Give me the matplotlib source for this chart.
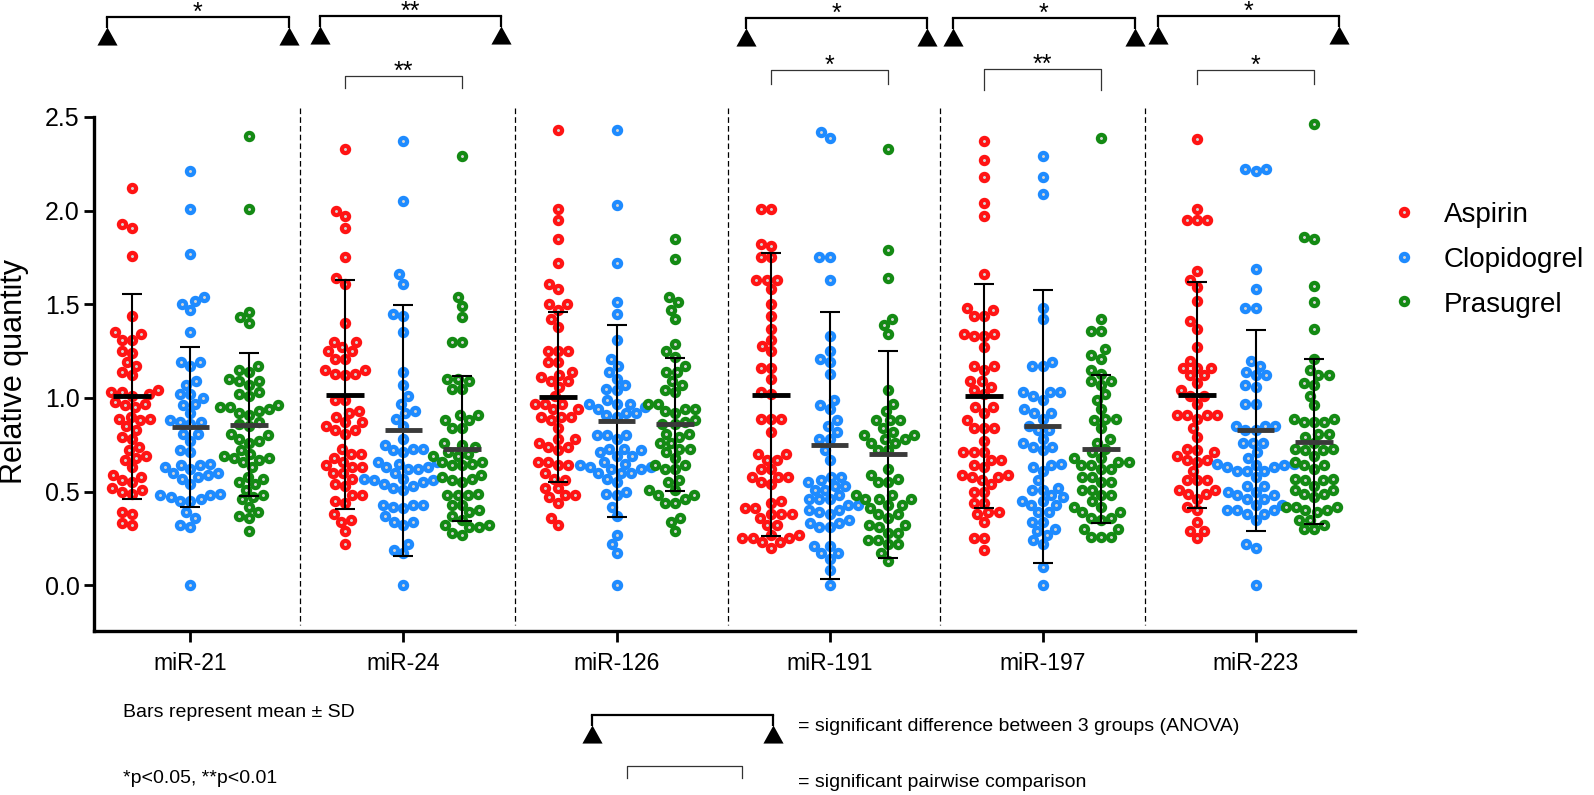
"""Relative miRNA quantity per antiplatelet drug, beeswarm with mean +/- SD."""

import matplotlib
matplotlib.use("Agg")
import matplotlib.pyplot as plt
import matplotlib.transforms as mtransforms
from matplotlib.lines import Line2D
import numpy as np

plt.rcParams["font.family"] = ["Liberation Sans", "DejaVu Sans"]

W, H, DPI = 1594, 795, 100

mirnas = ["miR-21", "miR-24", "miR-126", "miR-191", "miR-197", "miR-223"]
drugs = ["Aspirin", "Clopidogrel", "Prasugrel"]
colors = ["#ff1414", "#1e8bff", "#148a14"]
mean_colors = ["#000000", "#3a3a3a", "#3a3a3a"]

# individual values
mir21_aspirin = [2.12, 1.93, 1.91, 1.76, 1.44, 1.35, 1.34, 1.31, 1.31, 1.25, 1.24, 1.19, 1.17,
                 1.14, 1.12, 1.04, 1.03, 1.03, 1.02, 1.01, 0.98, 0.97, 0.96, 0.95, 0.90, 0.89,
                 0.89, 0.88, 0.85, 0.83, 0.79, 0.78, 0.74, 0.72, 0.69, 0.68, 0.67, 0.63, 0.59,
                 0.58, 0.56, 0.55, 0.52, 0.51, 0.50, 0.49, 0.39, 0.38, 0.33, 0.32]
mir21_clopidogrel = [2.21, 2.01, 1.77, 1.54, 1.52, 1.50, 1.47, 1.35, 1.19, 1.19, 1.17, 1.09, 1.07,
                     1.02, 1.02, 1.00, 0.97, 0.96, 0.92, 0.88, 0.87, 0.87, 0.86, 0.81, 0.81, 0.77,
                     0.72, 0.71, 0.65, 0.64, 0.64, 0.63, 0.62, 0.60, 0.60, 0.59, 0.58, 0.57, 0.54,
                     0.49, 0.48, 0.48, 0.47, 0.46, 0.45, 0.45, 0.39, 0.36, 0.32, 0.31, 0.00]
mir21_prasugrel = [2.40, 2.01, 1.46, 1.43, 1.40, 1.17, 1.15, 1.14, 1.10, 1.09, 1.09, 1.07, 1.03,
                   1.02, 1.01, 0.96, 0.95, 0.95, 0.94, 0.93, 0.92, 0.91, 0.87, 0.86, 0.85, 0.81,
                   0.80, 0.78, 0.77, 0.76, 0.72, 0.70, 0.69, 0.68, 0.68, 0.67, 0.66, 0.63, 0.58,
                   0.57, 0.55, 0.54, 0.51, 0.48, 0.47, 0.46, 0.42, 0.39, 0.37, 0.36, 0.29]

mir24_aspirin = [2.33, 2.00, 1.97, 1.91, 1.75, 1.64, 1.61, 1.40, 1.30, 1.30, 1.27, 1.25, 1.25,
                 1.21, 1.21, 1.15, 1.15, 1.13, 1.13, 1.12, 0.99, 0.99, 0.93, 0.92, 0.90, 0.87,
                 0.87, 0.85, 0.83, 0.83, 0.81, 0.73, 0.70, 0.70, 0.68, 0.66, 0.64, 0.63, 0.63,
                 0.60, 0.60, 0.57, 0.54, 0.53, 0.48, 0.48, 0.45, 0.44, 0.38, 0.35, 0.34, 0.29, 0.22]
mir24_clopidogrel = [2.37, 2.05, 1.66, 1.61, 1.45, 1.44, 1.35, 1.14, 1.07, 1.01, 0.97, 0.93, 0.92,
                     0.89, 0.85, 0.78, 0.75, 0.73, 0.73, 0.72, 0.71, 0.66, 0.66, 0.65, 0.63, 0.63,
                     0.62, 0.62, 0.60, 0.57, 0.57, 0.56, 0.56, 0.55, 0.54, 0.53, 0.52, 0.51, 0.43,
                     0.43, 0.43, 0.42, 0.41, 0.37, 0.34, 0.34, 0.32, 0.22, 0.19, 0.17, 0.00]
mir24_prasugrel = [2.29, 1.54, 1.49, 1.43, 1.30, 1.30, 1.10, 1.10, 1.09, 1.05, 1.05, 0.91, 0.91,
                   0.88, 0.88, 0.84, 0.84, 0.76, 0.75, 0.74, 0.71, 0.70, 0.69, 0.69, 0.66, 0.66,
                   0.65, 0.64, 0.64, 0.59, 0.58, 0.57, 0.56, 0.55, 0.49, 0.48, 0.48, 0.48, 0.43,
                   0.43, 0.40, 0.39, 0.37, 0.35, 0.32, 0.32, 0.31, 0.31, 0.28, 0.27]

mir126_aspirin = [2.43, 2.01, 1.95, 1.85, 1.72, 1.61, 1.58, 1.50, 1.50, 1.47, 1.42, 1.38, 1.25,
                  1.25, 1.25, 1.19, 1.19, 1.14, 1.12, 1.11, 1.09, 1.09, 1.06, 1.01, 0.97, 0.97,
                  0.97, 0.94, 0.94, 0.90, 0.90, 0.90, 0.88, 0.84, 0.78, 0.78, 0.76, 0.74, 0.74,
                  0.72, 0.66, 0.66, 0.64, 0.64, 0.60, 0.57, 0.56, 0.52, 0.52, 0.48, 0.48, 0.47,
                  0.44, 0.36, 0.32]
mir126_clopidogrel = [2.43, 2.03, 1.72, 1.51, 1.45, 1.31, 1.21, 1.17, 1.14, 1.10, 1.07, 1.05, 1.04,
                      0.99, 0.97, 0.97, 0.97, 0.95, 0.94, 0.92, 0.92, 0.91, 0.90, 0.80, 0.80, 0.80,
                      0.78, 0.73, 0.73, 0.72, 0.71, 0.69, 0.69, 0.66, 0.65, 0.64, 0.63, 0.63, 0.62,
                      0.62, 0.60, 0.60, 0.60, 0.57, 0.55, 0.50, 0.49, 0.48, 0.42, 0.37, 0.27, 0.22,
                      0.17, 0.00]
mir126_prasugrel = [1.85, 1.74, 1.54, 1.51, 1.47, 1.42, 1.29, 1.25, 1.22, 1.17, 1.14, 1.14, 1.09,
                    1.07, 1.04, 1.03, 0.97, 0.97, 0.94, 0.94, 0.93, 0.92, 0.88, 0.87, 0.86, 0.86,
                    0.81, 0.81, 0.79, 0.76, 0.76, 0.73, 0.73, 0.71, 0.68, 0.64, 0.64, 0.62, 0.62,
                    0.56, 0.55, 0.51, 0.51, 0.48, 0.48, 0.46, 0.44, 0.44, 0.36, 0.34, 0.29]

mir191_aspirin = [2.01, 2.01, 1.82, 1.81, 1.75, 1.75, 1.63, 1.63, 1.63, 1.58, 1.50, 1.44, 1.37,
                  1.31, 1.28, 1.25, 1.16, 1.16, 1.10, 1.03, 1.02, 0.89, 0.89, 0.89, 0.82, 0.70,
                  0.70, 0.67, 0.67, 0.62, 0.62, 0.58, 0.58, 0.58, 0.55, 0.54, 0.45, 0.44, 0.41,
                  0.41, 0.38, 0.38, 0.38, 0.36, 0.32, 0.32, 0.27, 0.27, 0.25, 0.25, 0.25, 0.23,
                  0.23, 0.20]
mir191_clopidogrel = [2.42, 2.39, 1.75, 1.75, 1.63, 1.33, 1.25, 1.21, 1.19, 1.13, 0.99, 0.96, 0.94,
                      0.88, 0.85, 0.82, 0.78, 0.78, 0.72, 0.67, 0.58, 0.58, 0.56, 0.55, 0.53, 0.53,
                      0.51, 0.51, 0.48, 0.46, 0.46, 0.46, 0.43, 0.43, 0.40, 0.40, 0.39, 0.38, 0.35,
                      0.33, 0.33, 0.31, 0.31, 0.21, 0.21, 0.17, 0.17, 0.14, 0.08, 0.00]
mir191_prasugrel = [2.33, 1.79, 1.64, 1.42, 1.39, 1.34, 1.04, 0.97, 0.93, 0.88, 0.88, 0.88, 0.84,
                    0.82, 0.80, 0.80, 0.78, 0.78, 0.76, 0.76, 0.72, 0.72, 0.62, 0.59, 0.57, 0.55,
                    0.55, 0.48, 0.48, 0.46, 0.46, 0.46, 0.43, 0.43, 0.41, 0.38, 0.38, 0.36, 0.32,
                    0.32, 0.31, 0.28, 0.28, 0.24, 0.24, 0.22, 0.22, 0.17, 0.13]

mir197_aspirin = [2.37, 2.27, 2.18, 2.04, 1.97, 1.66, 1.48, 1.47, 1.44, 1.44, 1.34, 1.34, 1.33,
                  1.33, 1.27, 1.17, 1.17, 1.15, 1.09, 1.09, 1.06, 1.04, 1.02, 0.95, 0.95, 0.92,
                  0.88, 0.84, 0.84, 0.84, 0.77, 0.71, 0.71, 0.71, 0.67, 0.67, 0.64, 0.63, 0.59,
                  0.59, 0.58, 0.58, 0.56, 0.54, 0.50, 0.50, 0.44, 0.44, 0.39, 0.39, 0.38, 0.34,
                  0.25, 0.25, 0.19]
mir197_clopidogrel = [2.29, 2.18, 2.09, 1.48, 1.42, 1.19, 1.17, 1.17, 1.03, 1.03, 1.03, 1.01, 0.99,
                      0.94, 0.92, 0.92, 0.89, 0.85, 0.83, 0.83, 0.78, 0.76, 0.74, 0.74, 0.72, 0.65,
                      0.64, 0.63, 0.61, 0.56, 0.52, 0.51, 0.51, 0.48, 0.47, 0.45, 0.45, 0.43, 0.43,
                      0.39, 0.39, 0.34, 0.34, 0.30, 0.29, 0.27, 0.24, 0.22, 0.10, 0.00]
mir197_prasugrel = [2.39, 1.42, 1.36, 1.36, 1.26, 1.23, 1.21, 1.15, 1.13, 1.09, 1.09, 1.07, 1.02,
                    0.99, 0.94, 0.89, 0.89, 0.88, 0.84, 0.78, 0.76, 0.73, 0.71, 0.68, 0.68, 0.66,
                    0.66, 0.64, 0.64, 0.62, 0.62, 0.58, 0.58, 0.55, 0.55, 0.51, 0.51, 0.48, 0.48,
                    0.45, 0.42, 0.42, 0.39, 0.39, 0.36, 0.36, 0.35, 0.30, 0.30, 0.26, 0.26, 0.26]

mir223_aspirin = [2.38, 2.01, 1.95, 1.95, 1.95, 1.68, 1.63, 1.59, 1.52, 1.41, 1.37, 1.27, 1.20,
                  1.16, 1.16, 1.16, 1.12, 1.12, 1.08, 1.04, 1.01, 1.01, 0.97, 0.91, 0.91, 0.91,
                  0.91, 0.89, 0.84, 0.79, 0.73, 0.72, 0.71, 0.69, 0.67, 0.67, 0.66, 0.61, 0.56,
                  0.56, 0.56, 0.51, 0.51, 0.49, 0.49, 0.46, 0.42, 0.40, 0.34, 0.29, 0.29, 0.25]
mir223_clopidogrel = [2.22, 2.22, 2.21, 1.69, 1.58, 1.48, 1.48, 1.20, 1.17, 1.14, 1.12, 1.12, 1.07,
                      1.06, 0.97, 0.97, 0.85, 0.85, 0.85, 0.83, 0.83, 0.76, 0.76, 0.76, 0.71, 0.68,
                      0.65, 0.65, 0.64, 0.64, 0.63, 0.63, 0.61, 0.61, 0.61, 0.58, 0.53, 0.53, 0.50,
                      0.50, 0.48, 0.48, 0.46, 0.46, 0.43, 0.43, 0.40, 0.40, 0.40, 0.38, 0.38, 0.35,
                      0.22, 0.20, 0.00]
mir223_prasugrel = [2.46, 1.86, 1.85, 1.60, 1.51, 1.37, 1.21, 1.15, 1.12, 1.12, 1.08, 1.07, 1.01,
                    0.96, 0.89, 0.89, 0.87, 0.87, 0.87, 0.81, 0.81, 0.79, 0.76, 0.73, 0.73, 0.72,
                    0.72, 0.69, 0.66, 0.64, 0.64, 0.62, 0.57, 0.57, 0.56, 0.56, 0.53, 0.51, 0.51,
                    0.49, 0.49, 0.47, 0.42, 0.42, 0.42, 0.40, 0.40, 0.39, 0.35, 0.35, 0.32, 0.30, 0.30]

# group mean and SD as drawn
mean_aspirin = [1.009, 1.018, 1.005, 1.018, 1.009, 1.016]
sd_aspirin = [0.548, 0.613, 0.456, 0.755, 0.597, 0.602]
mean_clopidogrel = [0.845, 0.827, 0.877, 0.747, 0.849, 0.827]
sd_clopidogrel = [0.428, 0.668, 0.512, 0.712, 0.728, 0.538]
mean_prasugrel = [0.858, 0.730, 0.859, 0.699, 0.728, 0.767]
sd_prasugrel = [0.381, 0.386, 0.355, 0.551, 0.394, 0.440]

# significance annotations
anova_idx = [0, 1, 3, 4, 5]
anova_stars = ["*", "**", "*", "*", "*"]
pair_idx = [1, 3, 4, 5]
pair_stars = ["**", "*", "**", "*"]

values = [
    [mir21_aspirin, mir21_clopidogrel, mir21_prasugrel],
    [mir24_aspirin, mir24_clopidogrel, mir24_prasugrel],
    [mir126_aspirin, mir126_clopidogrel, mir126_prasugrel],
    [mir191_aspirin, mir191_clopidogrel, mir191_prasugrel],
    [mir197_aspirin, mir197_clopidogrel, mir197_prasugrel],
    [mir223_aspirin, mir223_clopidogrel, mir223_prasugrel],
]
means = [mean_aspirin, mean_clopidogrel, mean_prasugrel]
sds = [sd_aspirin, sd_clopidogrel, sd_prasugrel]

# layout (pixels of the 1594x795 canvas, y from top)
GROUP_OFF = 0.2746
DIVIDERS = [0.513, 1.523, 2.523, 3.518, 4.48]
ANOVA_SPAN = {0: (-0.393, 0.461), 1: (0.608, 1.458), 3: (2.607, 3.457),
              4: (3.579, 4.434), 5: (4.541, 5.391)}
ANOVA_LINE_Y = {0: 17, 1: 16, 3: 18, 4: 18, 5: 16}
PAIR_LINE_Y = {1: 76, 3: 70, 4: 69, 5: 70}
PAIR_LEG_Y = {1: 88, 3: 84, 4: 90, 5: 84}


def swarm_offsets(yvals, d):
    """Greedy beeswarm: horizontal offsets (same units as yvals), min spacing d."""
    order = np.argsort(yvals, kind="stable")
    xs = np.zeros(len(yvals))
    placed = []
    for i in order:
        y = yvals[i]
        near = [(px, py) for px, py in placed if abs(py - y) < d]
        cands = [0.0]
        for px, py in near:
            dx = np.sqrt(d * d - (py - y) ** 2)
            cands += [px - dx, px + dx]
        cands.sort(key=lambda c: (abs(c), c))
        for c in cands:
            if all((c - px) ** 2 + (y - py) ** 2 >= d * d - 1e-6 for px, py in near):
                xs[i] = c
                break
        placed.append((xs[i], y))
    return xs


def anova_bracket(x0, x1, y_line, trans, lw=1.6):
    tri = [(0, 0.9), (-1, -0.9), (1, -0.9)]
    for x in (x0, x1):
        ax.plot([x, x], [y_line, y_line + 11], color="black", lw=lw,
                transform=trans, clip_on=False, solid_capstyle="butt")
        ax.plot([x], [y_line + 19], marker=tri, ms=14.5, color="black", mew=0,
                transform=trans, clip_on=False, ls="none")
    ax.plot([x0, x1], [y_line, y_line], color="black", lw=lw, transform=trans,
            clip_on=False, solid_capstyle="projecting")


def pair_bracket(x0, x1, y_line, y_leg, trans):
    ax.plot([x0, x0, x1, x1], [y_leg, y_line, y_line, y_leg], color="#333333",
            lw=0.9, transform=trans, clip_on=False)


fig = plt.figure(figsize=(W / DPI, H / DPI), dpi=DPI)
ax = fig.add_axes([94 / W, 1 - 631 / H, (1355 - 94) / W, (631 - 117) / H])
ax.set_xlim(-0.453, 5.467)
ax.set_ylim(-0.244, 2.5)

pix = mtransforms.Affine2D().scale(1 / W, -1 / H).translate(0, 1) + fig.transFigure
top = mtransforms.blended_transform_factory(ax.transData, pix)

p0 = ax.transData.transform((0, 0))
p1 = ax.transData.transform((1, 1))
sx, sy = p1[0] - p0[0], p1[1] - p0[1]

for c in range(len(mirnas)):
    for g in range(len(drugs)):
        pos = c + (g - 1) * GROUP_OFF
        vals = np.asarray(values[c][g], dtype=float)
        xoff = swarm_offsets(vals * sy, 10.3) / sx
        ax.plot(pos + xoff, vals, ls="none", marker="o", ms=5.2, mew=3.0,
                mec=colors[g], mfc="#d4d4d4", zorder=2, clip_on=False)
        ax.errorbar(pos, means[g][c], yerr=sds[g][c], fmt="none", ecolor="black",
                    elinewidth=1.5, capsize=7.5, capthick=1.5, zorder=3)
        ax.hlines(means[g][c], pos - 0.089, pos + 0.089, color=mean_colors[g],
                  lw=3.5, zorder=4)

for xd in DIVIDERS:
    ax.plot([xd, xd], [108, 625], color="black", lw=0.9, dashes=(4.5, 2.5),
            transform=top, clip_on=False)

ax.spines[["top", "right"]].set_visible(False)
for s in ("left", "bottom"):
    ax.spines[s].set_linewidth(2.4)
ax.set_yticks(np.arange(0, 2.51, 0.5))
ax.set_yticklabels([f"{t:.1f}" for t in np.arange(0, 2.51, 0.5)])
ax.set_xticks(range(len(mirnas)))
ax.set_xticklabels(mirnas)
ax.tick_params(axis="y", length=7.2, width=2, pad=3, labelsize=18)
ax.tick_params(axis="x", length=8, width=2, pad=7, labelsize=16.5)
fig.text(14 / W, 1 - 372 / H, "Relative quantity", rotation=90, ha="center",
         va="center", fontsize=22)

# significance brackets above the axes
for c, st in zip(anova_idx, anova_stars):
    x0, x1 = ANOVA_SPAN[c]
    anova_bracket(x0, x1, ANOVA_LINE_Y[c], top)
    ax.text((x0 + x1) / 2, ANOVA_LINE_Y[c] + 3, st, transform=top, ha="center",
            va="baseline", fontsize=18)
for c, st in zip(pair_idx, pair_stars):
    x0, x1 = c - GROUP_OFF, c + GROUP_OFF
    pair_bracket(x0, x1, PAIR_LINE_Y[c], PAIR_LEG_Y[c], top)
    ax.text(c, PAIR_LINE_Y[c] + 3, st, transform=top, ha="center",
            va="baseline", fontsize=18)

# legend
for g, name in enumerate(drugs):
    yl = 212 + g * 44.5
    fig.add_artist(Line2D([1404], [yl], transform=pix, ls="none", marker="o",
                          ms=5.2, mew=3.0, mec=colors[g], mfc="#d4d4d4"))
    fig.text(1444 / W, 1 - (yl + 10.5) / H, name, ha="left", va="baseline",
             fontsize=20)

# notes below the axes
pix_ax = mtransforms.blended_transform_factory(pix, pix)
fig.text(123 / W, 1 - 717 / H, "Bars represent mean \u00b1 SD", va="baseline",
         fontsize=14)
fig.text(123 / W, 1 - 783 / H, "*p<0.05, **p<0.01", va="baseline", fontsize=14)
anova_bracket(592, 773, 715, pix_ax)
pair_bracket(627, 742, 766, 778, pix_ax)
fig.text(798 / W, 1 - 731 / H, "= significant difference between 3 groups (ANOVA)",
         va="baseline", fontsize=14)
fig.text(798 / W, 1 - 787 / H, "= significant pairwise comparison", va="baseline",
         fontsize=14)

ax.set_xlim(-0.453, 5.467)
ax.set_ylim(-0.244, 2.5)
fig.savefig("out.png", dpi=DPI)
